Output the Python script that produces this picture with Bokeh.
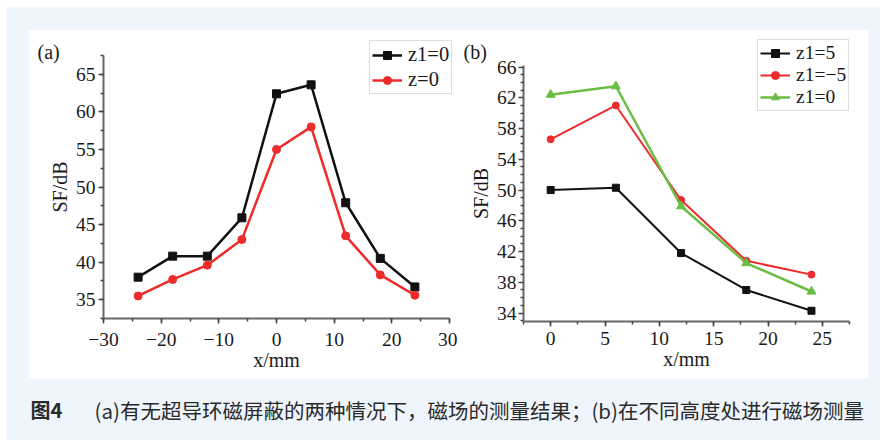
from bokeh.plotting import figure
from bokeh.models import (Range1d, SingleIntervalTicker, FixedTicker, Legend, LegendItem, Label)
from bokeh.layouts import column, row
from bokeh.embed import file_html
from bokeh.resources import INLINE

# ---------------- data ----------------
x_a = [-24, -18, -12, -6, 0, 6, 12, 18, 24]
sf_a_z1_0 = [38.0, 40.8, 40.8, 45.9, 62.4, 63.6, 47.9, 40.5, 36.7]
sf_a_z_0 = [35.5, 37.7, 39.6, 43.0, 55.0, 58.0, 43.5, 38.3, 35.6]

x_b = [0, 6, 12, 18, 24]
sf_b_z1_5 = [50.0, 50.3, 41.8, 37.0, 34.3]
sf_b_z1_m5 = [56.6, 61.0, 48.7, 40.8, 39.0]
sf_b_z1_0 = [62.4, 63.5, 47.9, 40.5, 36.8]

legend_a = ["z1=0", "z=0"]
legend_b = ["z1=5", "z1=\u22125", "z1=0"]

xa_ticks = [-30, -20, -10, 0, 10, 20, 30]
xa_tick_labels = ["\u221230", "\u221220", "\u221210", "0", "10", "20", "30"]
yb_ticks = [34, 38, 42, 46, 50, 54, 58, 62, 66]
yb_minor_ticks = [33, 35, 36, 37, 39, 40, 41, 43, 44, 45, 47, 48, 49, 51, 52, 53,
                  55, 56, 57, 59, 60, 61, 63, 64, 65]
x_label = "x/mm"
y_label = "SF/dB"
panel_a = "(a)"
panel_b = "(b)"
caption_num = "图4"
caption_text = "(a)有无超导环磁屏蔽的两种情况下，磁场的测量结果；(b)在不同高度处进行磁场测量"

# axis extents (data)
xa_bounds = (-30, 30)
ya_bounds = (32.5, 67.5)
xb_bounds = (-2.5, 27.5)
yb_bounds = (32.9, 66.2)

# ---------------- styles ----------------
BLUE = "#EEF5FC"
BLACK = "#111111"
RED = "#EE2B2B"
GREEN = "#6BBE45"
SERIF = "Liberation Serif"
AXIS_GRAY = "#666666"
TXT = "#1a1a1a"


def strip(w, h, color=BLUE):
    s = figure(width=w, height=h, x_axis_location=None, y_axis_location=None,
               toolbar_location=None, output_backend="svg", min_border=0,
               outline_line_color=None, background_fill_color=color,
               border_fill_color=color)
    s.grid.visible = False
    return s


def frame_range(bounds, px_lo, px_hi, total, flip=False):
    # place axis bounds at pixel positions px_lo..px_hi inside a frame of size total
    lo, hi = bounds
    k = (hi - lo) / (px_hi - px_lo)
    if flip:  # vertical: px measured from top
        return Range1d(lo - (total - px_hi) * k, hi + px_lo * k)
    return Range1d(lo - px_lo * k, hi + (total - px_hi) * k)


def style_axes(p, xt, yt, xb, yb, x_std, y_std):
    p.grid.visible = False
    for ax in (p.xaxis[0], p.yaxis[0]):
        ax.axis_line_color = AXIS_GRAY
        ax.axis_line_width = 2
        ax.major_tick_line_color = "#444444"
        ax.minor_tick_line_color = "#444444"
        ax.major_tick_line_width = 1.5
        ax.minor_tick_line_width = 1.5
        ax.major_tick_in = 0
        ax.minor_tick_in = 0
        ax.major_tick_out = 5
        ax.minor_tick_out = 3
        ax.major_label_text_font = SERIF
        ax.major_label_text_font_size = "19.5px"
        ax.major_label_text_color = TXT
        ax.axis_label_text_font = SERIF
        ax.axis_label_text_font_style = "normal"
        ax.axis_label_text_font_size = "20px"
        ax.axis_label_text_color = TXT
    p.xaxis[0].ticker = xt
    p.yaxis[0].ticker = yt
    p.xaxis[0].bounds = xb
    p.yaxis[0].bounds = yb
    p.xaxis[0].fixed_location = yb[0]
    p.yaxis[0].fixed_location = xb[0]
    p.xaxis[0].axis_label = x_label
    p.yaxis[0].axis_label = y_label
    p.xaxis[0].major_label_standoff = x_std
    p.yaxis[0].major_label_standoff = y_std
    p.xaxis[0].axis_label_standoff = 0
    p.yaxis[0].axis_label_standoff = 2


def make_legend(items, loc, font, spacing, padding):
    return Legend(items=items, location=loc, border_line_color="#BBBBBB",
                  border_line_width=1.5, background_fill_color="white",
                  background_fill_alpha=1.0, padding=padding, spacing=spacing, margin=0,
                  glyph_width=30, glyph_height=20, label_standoff=6,
                  label_text_font=SERIF, label_text_font_size=font,
                  label_text_color=TXT, label_height=20)


# ---------------- panel (a) ----------------
WA, HA = 428, 348
pa = figure(width=WA, height=HA,
            x_range=frame_range(xa_bounds, 74, 420, WA),
            y_range=frame_range(ya_bounds, 25, 288, HA, flip=True),
            min_border=0, toolbar_location=None, output_backend="svg",
            outline_line_color=None, background_fill_color="white",
            border_fill_color="white")
style_axes(pa, SingleIntervalTicker(interval=10, num_minor_ticks=2),
           SingleIntervalTicker(interval=5, num_minor_ticks=2),
           xa_bounds, ya_bounds, 9, 3)
pa.xaxis[0].major_label_overrides = dict(zip(xa_ticks, xa_tick_labels))

la1 = pa.line(x_a, sf_a_z1_0, line_color=BLACK, line_width=2.5)
sa1 = pa.scatter(x_a, sf_a_z1_0, marker="square", size=8, color=BLACK)
la2 = pa.line(x_a, sf_a_z_0, line_color=RED, line_width=2.5)
sa2 = pa.scatter(x_a, sf_a_z_0, marker="circle", size=8, color=RED)
pa.add_layout(make_legend([LegendItem(label=legend_a[0], renderers=[la1, sa1]),
                           LegendItem(label=legend_a[1], renderers=[la2, sa2])],
                          (340, 284), "20.5px", 2, 2))
pa.add_layout(Label(x=8, y=327, x_units="screen", y_units="screen", text=panel_a,
                    text_font=SERIF, text_font_size="20px", text_color=TXT,
                    text_baseline="alphabetic"))

# ---------------- panel (b) ----------------
WB, HB = 411, 348
pb = figure(width=WB, height=HB,
            x_range=frame_range(xb_bounds, 66, 392, WB),
            y_range=frame_range(yb_bounds, 35, 291, HB, flip=True),
            min_border=0, toolbar_location=None, output_backend="svg",
            outline_line_color=None, background_fill_color="white",
            border_fill_color="white")
style_axes(pb, SingleIntervalTicker(interval=5, num_minor_ticks=2),
           FixedTicker(ticks=yb_ticks, minor_ticks=yb_minor_ticks),
           xb_bounds, yb_bounds, 5, 2)

lb1 = pb.line(x_b, sf_b_z1_5, line_color=BLACK, line_width=2)
sb1 = pb.scatter(x_b, sf_b_z1_5, marker="square", size=7, color=BLACK)
lb2 = pb.line(x_b, sf_b_z1_m5, line_color=RED, line_width=2)
sb2 = pb.scatter(x_b, sf_b_z1_m5, marker="circle", size=7, color=RED)
lb3 = pb.line(x_b, sf_b_z1_0, line_color=GREEN, line_width=2.5)
sb3 = pb.scatter(x_b, sf_b_z1_0, marker="triangle", size=9, color=GREEN)
pb.add_layout(make_legend([LegendItem(label=legend_b[0], renderers=[lb1, sb1]),
                           LegendItem(label=legend_b[1], renderers=[lb2, sb2]),
                           LegendItem(label=legend_b[2], renderers=[lb3, sb3])],
                          (300, 267), "19.5px", 0, 2))
pb.add_layout(Label(x=6, y=327, x_units="screen", y_units="screen", text=panel_b,
                    text_font=SERIF, text_font_size="20px", text_color=TXT,
                    text_baseline="alphabetic"))

# ---------------- caption ----------------
CW, CH = 874, 62
cap = figure(width=CW, height=CH, x_range=Range1d(0, CW), y_range=Range1d(0, CH),
             x_axis_location=None, y_axis_location=None, toolbar_location=None,
             output_backend="svg", min_border=0, outline_line_color=None,
             background_fill_color=BLUE, border_fill_color=BLUE)
cap.grid.visible = False
cap.add_layout(Label(x=24, y=31, text=caption_num, text_font="Noto Sans CJK SC",
                     text_font_size="20px", text_font_style="bold", text_color="#2a2a2a",
                     text_baseline="middle"))
cap.add_layout(Label(x=88, y=31, text=caption_text, text_font="Noto Sans CJK SC",
                     text_font_size="20.5px", text_color="#2a2a2a", text_baseline="middle"))

inner = column(
    strip(874, 23),
    row(strip(23, 348), pa, pb, strip(12, 348), spacing=0),
    cap,
    spacing=0,
)
layout = column(
    strip(884, 7, "white"),
    row(strip(6, 433, "white"), inner, strip(4, 433, "white"), spacing=0),
    spacing=0,
)

open("out.html", "w").write(file_html(layout, INLINE))
